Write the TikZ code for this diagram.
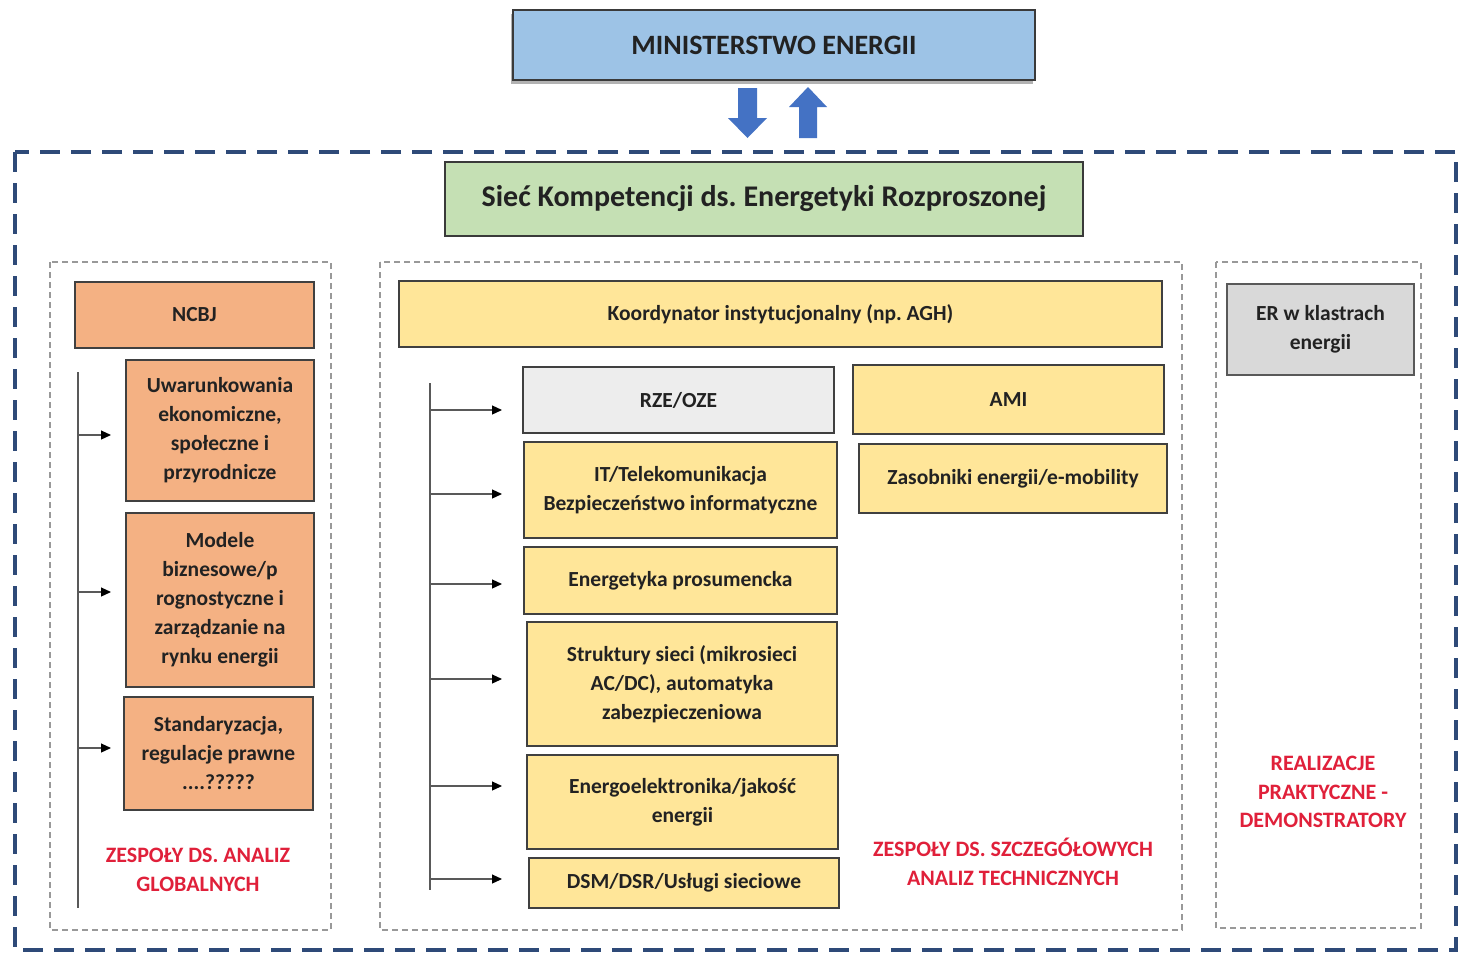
\documentclass[tikz,border=0pt]{standalone}
\usepackage{fontspec}
\setmainfont{Carlito}
\frenchspacing
\usetikzlibrary{arrows.meta}
\definecolor{minblue}{HTML}{9DC3E6}
\definecolor{netgreen}{HTML}{C5E0B4}
\definecolor{orng}{HTML}{F4B183}
\definecolor{ylw}{HTML}{FFE699}
\definecolor{lgray}{HTML}{EDEDED}
\definecolor{mgray}{HTML}{D9D9D9}
\definecolor{boxline}{HTML}{404040}
\definecolor{txt}{HTML}{222222}
\definecolor{outerblue}{HTML}{2E4A78}
\definecolor{arrblue}{HTML}{4472C4}
\definecolor{lblred}{HTML}{E0203A}
\begin{document}
\begin{tikzpicture}[x=1pt,y=-1pt,
  box/.style={draw=boxline, line width=1.8pt, align=center, inner sep=2pt, text=txt,
    font=\bfseries\fontsize{21.5}{29}\selectfont},
  bigbox/.style={box, line width=2.6pt, draw=boxline!90!black},
  group/.style={draw=gray!80, line width=1.1pt, dash pattern=on 6pt off 4pt},
  redlbl/.style={text=lblred, align=center, font=\bfseries\fontsize{22}{28.5}\selectfont},
  feed/.style={draw=gray!70!black, line width=1.2pt, -{Triangle[length=10pt,width=9pt,color=black,fill=black]}},
  spine/.style={draw=gray!70!black, line width=1.5pt}
]
\useasboundingbox (0,0) rectangle (1459,954);
\fill[white] (0,0) rectangle (1459,954);

% outer dashed frame
\draw[outerblue, line width=4pt, dash pattern=on 20pt off 11pt] (15,152) rectangle (1456,950);

% top
\fill[gray!60] (511,14) rectangle (1033,84);
\node[bigbox, fill=minblue, minimum width=522pt, minimum height=70pt,
  font=\bfseries\fontsize{28}{32}\selectfont] (min) at (774,45) {MINISTERSTWO ENERGII};

% block arrows
\fill[arrblue] (738,88) -- (757,88) -- (757,118) -- (767,118) -- (747.5,138) -- (728,118) -- (738,118) -- cycle;
\fill[arrblue] (799,138) -- (817,138) -- (817,107) -- (827,107) -- (808,87) -- (789,107) -- (799,107) -- cycle;

\node[bigbox, fill=netgreen, minimum width=638pt, minimum height=74pt,
  font=\bfseries\fontsize{30}{34}\selectfont] (siec) at (764,199) {Sieć Kompetencji ds. Energetyki Rozproszonej};

% group frames
\draw[group] (50,262) rectangle (331,930);
\draw[group] (380,262) rectangle (1182,930);
\draw[group] (1216,262) rectangle (1421,928);

% left column
\node[box, fill=orng, minimum width=239pt, minimum height=66pt] (ncbj) at (194.5,315) {NCBJ};
\node[box, fill=orng, minimum width=188pt, minimum height=141pt] (uwar) at (220,430.5)
  {Uwarunkowania\\ekonomiczne,\\społeczne i\\przyrodnicze};
\node[box, fill=orng, minimum width=188pt, minimum height=174pt] (model) at (220,600)
  {Modele\\biznesowe/p\\rognostyczne i\\zarządzanie na\\rynku energii};
\node[box, fill=orng, minimum width=189pt, minimum height=113pt] (stand) at (218.5,753.5)
  {Standaryzacja,\\regulacje prawne\\....?????};

\coordinate (lt) at (78,372);
\coordinate (lb) at (78,908);
\draw[spine] (lt) -- (lb);
\foreach \yy/\nm in {435/a,592/b,748/c}{
  \coordinate (ls\nm) at (78,\yy);
  \coordinate (le\nm) at (111,\yy);
  \draw[feed] (ls\nm) -- (le\nm);
}
\node[redlbl] (lblL) at (198,870) {ZESPOŁY DS. ANALIZ\\GLOBALNYCH};

% middle column
\node[box, fill=ylw, minimum width=763pt, minimum height=66pt] (koord) at (780.5,314)
  {Koordynator instytucjonalny (np. AGH)};
\node[box, fill=lgray, minimum width=311pt, minimum height=66pt] (rze) at (678.5,400) {RZE/OZE};
\node[box, fill=ylw, minimum width=313pt, minimum height=96pt] (it) at (680.5,490)
  {IT/Telekomunikacja\\Bezpieczeństwo informatyczne};
\node[box, fill=ylw, minimum width=313pt, minimum height=67pt] (pros) at (680.5,580.5)
  {Energetyka prosumencka};
\node[box, fill=ylw, minimum width=310pt, minimum height=124pt] (strk) at (682,684)
  {Struktury sieci (mikrosieci\\AC/DC), automatyka\\zabezpieczeniowa};
\node[box, fill=ylw, minimum width=311pt, minimum height=94pt] (eel) at (682.5,802)
  {Energoelektronika/jakość\\energii};
\node[box, fill=ylw, minimum width=310pt, minimum height=50pt] (dsm) at (684,883)
  {DSM/DSR/Usługi sieciowe};
\node[box, fill=ylw, minimum width=311pt, minimum height=69pt] (ami) at (1008.5,399.5) {AMI};
\node[box, fill=ylw, minimum width=308pt, minimum height=69pt] (zas) at (1013,478.5)
  {Zasobniki energii/e-mobility};

\coordinate (mt) at (430,383);
\coordinate (mb) at (430,890);
\draw[spine] (mt) -- (mb);
\foreach \yy/\nm in {410/a,494/b,584/c,679/d,786/e,879/f}{
  \coordinate (ms\nm) at (430,\yy);
  \coordinate (me\nm) at (502,\yy);
  \draw[feed] (ms\nm) -- (me\nm);
}
\node[redlbl] (lblM) at (1013,862) {ZESPOŁY DS. SZCZEGÓŁOWYCH\\ANALIZ TECHNICZNYCH};

% right column
\node[box, fill=mgray, draw=gray!70!black, minimum width=187pt, minimum height=91pt] (er) at (1320.5,329.5)
  {ER w klastrach\\energii};
\node[redlbl] (lblR) at (1323,792) {REALIZACJE\\PRAKTYCZNE -\\DEMONSTRATORY};
\end{tikzpicture}
\end{document}
